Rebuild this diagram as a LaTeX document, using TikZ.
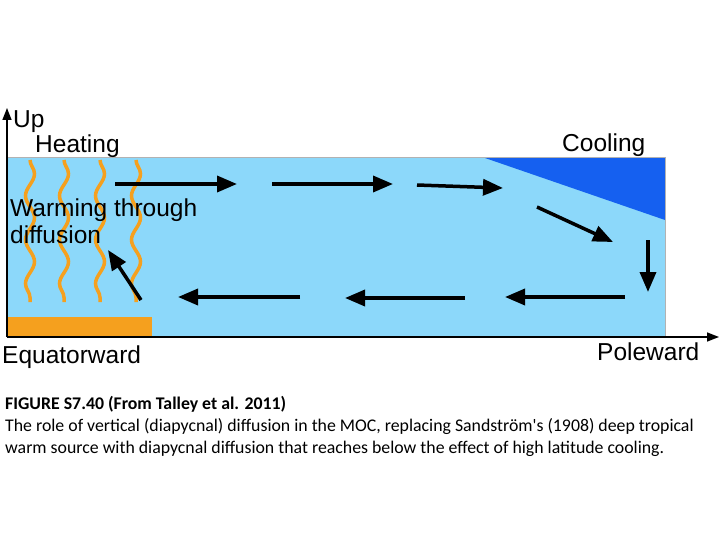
\documentclass[tikz,border=0pt]{standalone}
\usepackage{fontspec}
\setmainfont{Liberation Sans}
\newfontfamily\capfont{Carlito}
\usetikzlibrary{decorations.pathmorphing,arrows.meta}
\definecolor{seab}{HTML}{8CD8FA}
\definecolor{deepb}{HTML}{1560F0}
\definecolor{warm}{HTML}{F5A01E}
\tikzset{flow/.style={line width=3.5pt,-{Triangle[length=20pt,width=16pt]}},
 wavy/.style={warm,line width=3.5pt,decorate,decoration={snake,amplitude=4.5pt,segment length=44pt}},
 lbl/.style={anchor=west,inner sep=0pt,font=\fontsize{24.5}{27}\selectfont},
 captext/.style={anchor=north west,inner sep=0pt,font=\capfont\fontsize{17.8}{22}\selectfont,align=left}}
\begin{document}
\begin{tikzpicture}[x=1pt,y=-1pt]
\useasboundingbox[fill=white] (0,0) rectangle (720,540);
\fill[seab] (7,158) rectangle (665,337);
\fill[deepb] (485,158) -- (665,158) -- (665,220) -- cycle;
\fill[warm] (7,317) rectangle (152,337);
\draw[line width=1pt,gray!60] (7,158) -- (665,158) -- (665,337);
\foreach \x in {30,64,100,136}{\draw[wavy] (\x,160) -- (\x,302);}
\draw[line width=1.5pt,-{Triangle[length=12pt,width=9pt]}] (7,337) -- (7,108);
\draw[line width=1.5pt,-{Triangle[length=12pt,width=9pt]}] (7,337) -- (719,337);
\coordinate (r1a) at (115,184); \coordinate (r1b) at (237,184);
\coordinate (r2a) at (272,184); \coordinate (r2b) at (393,184);
\coordinate (r3a) at (417,185); \coordinate (r3b) at (503,188);
\coordinate (d1a) at (537,207); \coordinate (d1b) at (613,242);
\coordinate (d2a) at (648,240); \coordinate (d2b) at (648,292);
\coordinate (l1a) at (625,297); \coordinate (l1b) at (505,297);
\coordinate (l2a) at (465,298); \coordinate (l2b) at (345,298);
\coordinate (l3a) at (300,297); \coordinate (l3b) at (178,297);
\coordinate (u1a) at (141,300); \coordinate (u1b) at (108,250);
\foreach \a/\b in {r1a/r1b,r2a/r2b,r3a/r3b,d1a/d1b,d2a/d2b,l1a/l1b,l2a/l2b,l3a/l3b,u1a/u1b}{\draw[flow] (\a) -- (\b);}
\node[lbl] (up) at (13,122) {Up};
\node[lbl] (heat) at (35,146) {Heating};
\node[lbl] (cool) at (562,145) {Cooling};
\node[lbl,align=left,anchor=north west] (warmd) at (10,199) {Warming through\\diffusion};
\node[lbl] (eq) at (2,357) {Equatorward};
\node[lbl] (pole) at (597,352) {Poleward};
\node[captext] (c) at (5,396) {\textbf{FIGURE S7.40 (From Talley et al. 2011)}\\The role of vertical (diapycnal) diffusion in the MOC, replacing Sandström's (1908) deep tropical\\warm source with diapycnal diffusion that reaches below the effect of high latitude cooling.};
\end{tikzpicture}
\end{document}
